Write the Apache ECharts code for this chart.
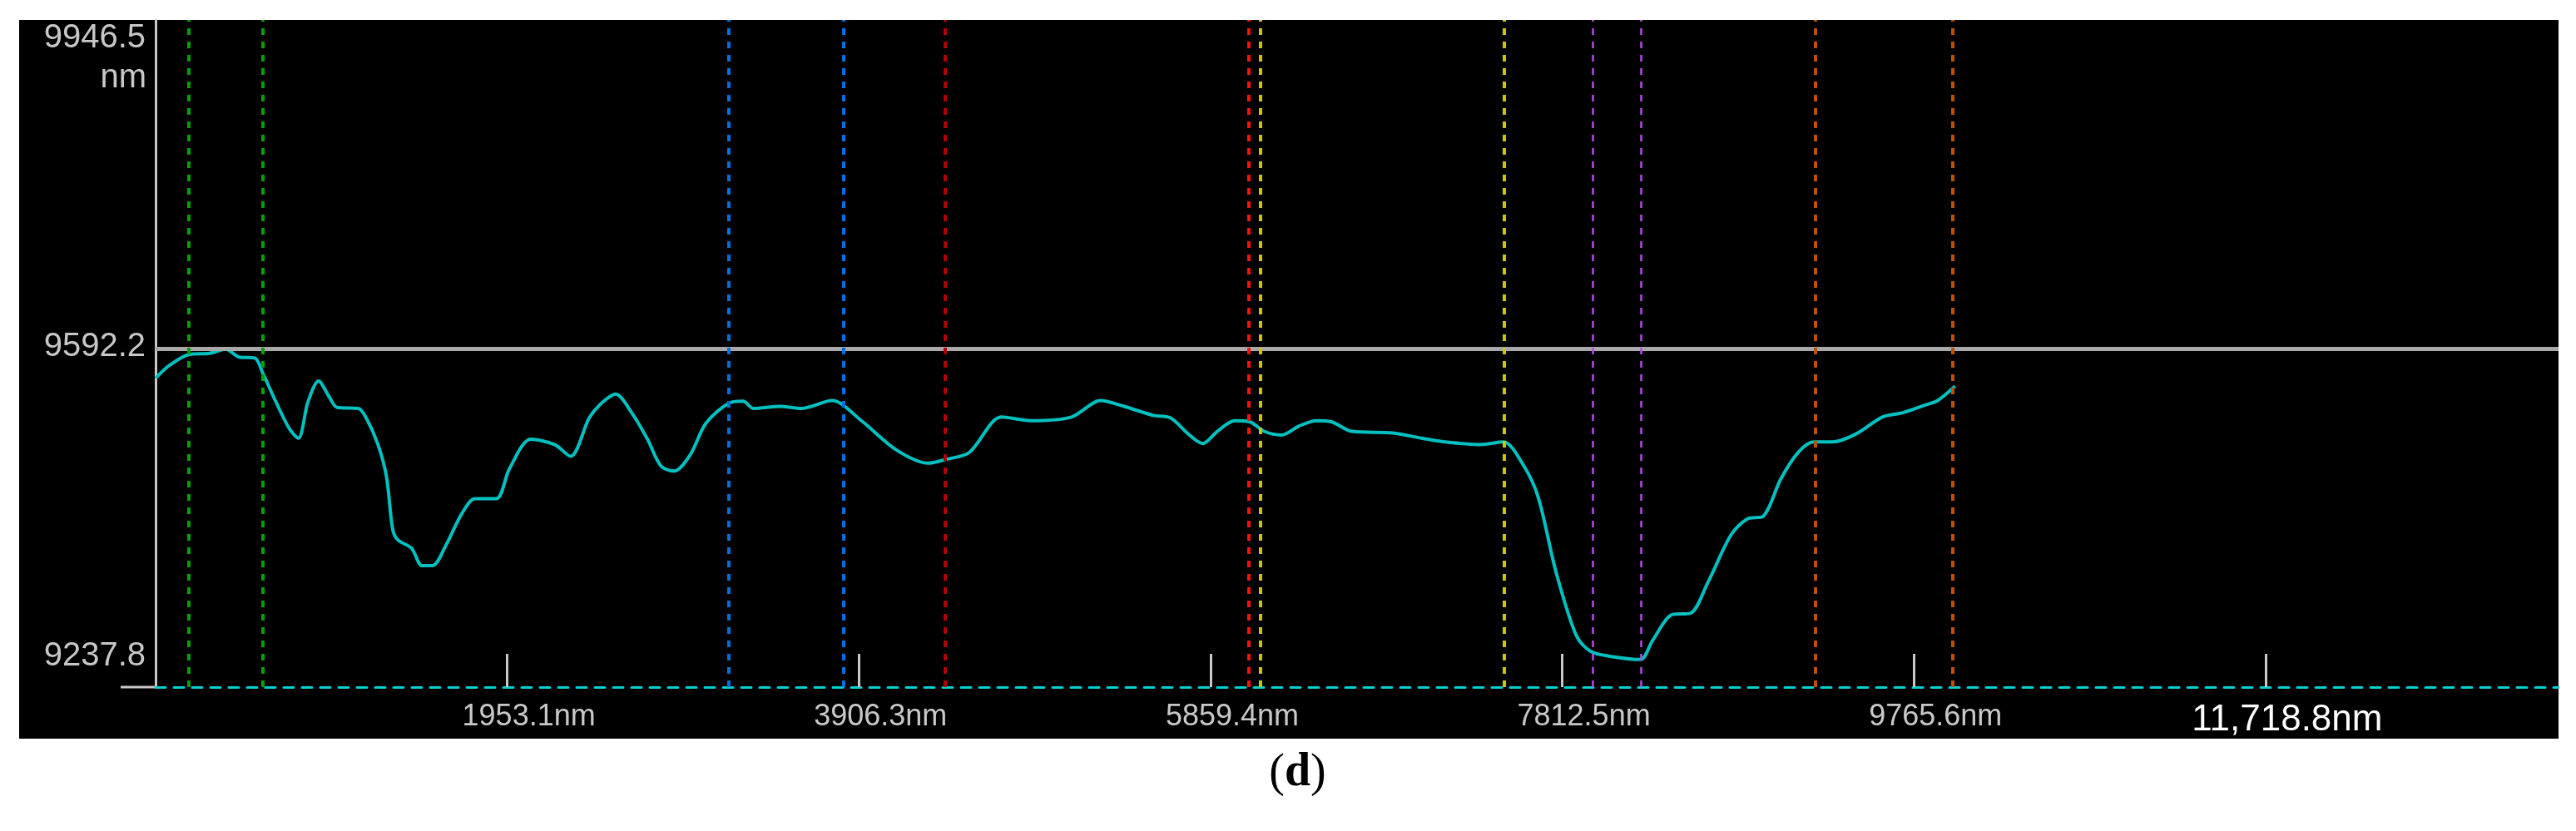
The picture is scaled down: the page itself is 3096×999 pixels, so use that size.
<!DOCTYPE html>
<html>
<head>
<meta charset="utf-8">
<script src="https://cdn.jsdelivr.net/npm/echarts@6/dist/echarts.min.js"></script>
<style>html,body{margin:0;padding:0;background:#fff}#chart{width:3096px;height:999px}</style>
</head>
<body>
<div id="chart"></div>
<script>
// Profil (Abstand in nm, Höhe in nm)
var distNm = [0, 80, 189, 301, 389, 463, 551, 595, 669, 743, 793, 846, 905, 964, 1008, 1126, 1170, 1235, 1282, 1317,
	1347, 1421, 1480, 1538, 1612, 1701, 1774, 1892, 1966, 2084, 2216, 2305, 2408, 2467, 2555, 2644, 2732, 2806, 2880, 2968,
	3056, 3183, 3263, 3321, 3469, 3587, 3758, 3920, 4114, 4292, 4387, 4519, 4698, 4860, 5087, 5249, 5379, 5541, 5638, 5735,
	5816, 5897, 5994, 6076, 6157, 6254, 6351, 6448, 6530, 6643, 6870, 7032, 7162, 7356, 7486, 7599, 7680, 7778, 7891, 7972,
	8102, 8248, 8313, 8426, 8523, 8621, 8750, 8841, 8929, 9026, 9122, 9210, 9316, 9445, 9591, 9704, 9833, 9898, 9994];
var heightNm = [9558.6, 9573.8, 9586.0, 9587.2, 9592.0, 9582.9, 9581.7, 9564.6, 9531.2, 9500.7, 9489.8, 9531.2, 9555.5, 9537.3, 9525.1, 9523.9, 9512.9, 9482.5, 9446.0, 9385.1,
	9372.9, 9363.8, 9343.7, 9343.7, 9366.8, 9403.4, 9420.4, 9420.4, 9455.1, 9488.6, 9482.5, 9469.1, 9512.9, 9528.1, 9540.3, 9519.0, 9488.6, 9458.1, 9452.1, 9470.3,
	9506.8, 9530.0, 9532.4, 9523.9, 9526.3, 9523.9, 9533.0, 9509.9, 9476.4, 9461.2, 9465.4, 9473.4, 9514.1, 9509.9, 9514.1, 9533.0, 9526.3, 9516.0, 9512.9, 9494.7,
	9483.7, 9497.7, 9509.9, 9508.7, 9497.7, 9493.4, 9503.8, 9509.9, 9508.7, 9497.7, 9495.9, 9489.8, 9485.5, 9482.5, 9485.5, 9458.1, 9421.6, 9336.4, 9263.4, 9245.1,
	9239.0, 9236.0, 9257.3, 9287.7, 9288.9, 9324.2, 9379.0, 9397.3, 9400.3, 9442.9, 9473.3, 9485.5, 9485.5, 9494.7, 9514.1, 9519.0, 9528.1, 9533.0, 9549.4];

// Cursor-Linien
var cursorX = [183, 593, 3183, 3820, 4385, 6073, 6137, 7489, 7981, 8250, 9218, 9981];
var cursorColor = ['#00a000', '#00a000', '#0070e0', '#0070e0', '#b00000', '#ff1010', '#c8c800', '#c8c800', '#b050e0', '#b050e0', '#c05000', '#c05000'];

var xTicks = [1953.1, 3906.3, 5859.4, 7812.5, 9765.6, 11718.8];
var xTickLabels = ['1953.1nm', '3906.3nm', '5859.4nm', '7812.5nm', '9765.6nm', '11,718.8nm'];
var yTicks = [9237.8, 9592.2, 9946.5];
var refLevel = 9592.2;

var chart = echarts.init(document.getElementById('chart'));

var marks = cursorX.map(function (x, i) {
	return {xAxis: x, lineStyle: {color: cursorColor[i], type: [8, 8], width: i == 8 || i == 9 ? 2.5 : 4}};
});
marks.unshift({yAxis: refLevel, lineStyle: {color: '#a8a8a8', type: 'solid', width: 5}});

chart.setOption({
	animation: false,
	backgroundColor: '#fff',
	graphic: [
		{type: 'rect', z: -10, shape: {x: 23, y: 24, width: 3052, height: 864}, style: {fill: '#000'}},
		{type: 'line', shape: {x1: 145, y1: 826, x2: 188, y2: 826}, style: {stroke: '#c8c8c8', lineWidth: 3}},
		{type: 'text', x: 176, y: 74, style: {text: 'nm', fill: '#c8c8c8', font: '40px "Liberation Sans"', align: 'right'}},
		{type: 'text', x: 1544, y: 902, style: {text: '(', fill: '#000', font: '56px "Liberation Serif"', align: 'right'}},
		{type: 'text', x: 1544, y: 902, style: {text: 'd', fill: '#000', font: 'bold 56px "Liberation Serif"'}},
		{type: 'text', x: 1575, y: 902, style: {text: ')', fill: '#000', font: '56px "Liberation Serif"'}}
	],
	grid: {left: 187, right: 21, top: 24, bottom: 173},
	xAxis: {
		type: 'value', min: 0, max: 13346,
		splitLine: {show: false},
		axisLine: {lineStyle: {color: '#00d0d0', type: [12, 10], width: 3}},
		axisTick: {customValues: xTicks, inside: true, length: 40, lineStyle: {color: '#c8c8c8', width: 3}},
		axisLabel: {
			customValues: xTicks, margin: 18, color: '#c8c8c8', fontSize: 36, fontFamily: 'Liberation Sans',
			padding: [0, 0, 0, 52],
			formatter: function (v) {
				var i = xTicks.indexOf(v);
				return i == 5 ? '{b|' + xTickLabels[i] + '}' : xTickLabels[i];
			},
			rich: {b: {color: '#fff', fontSize: 44, fontFamily: 'Liberation Sans'}}
		}
	},
	yAxis: {
		type: 'value', min: 9204.4, max: 9969.4,
		splitLine: {show: false},
		axisLine: {show: true, lineStyle: {color: '#c8c8c8', width: 3}},
		axisTick: {show: false},
		axisLabel: {
			customValues: yTicks, margin: 12, color: '#c8c8c8', fontSize: 40, fontFamily: 'Liberation Sans',
			verticalAlign: 'bottom', padding: [0, 0, -18, 0],
			formatter: function (v) { return v.toFixed(1); }
		}
	},
	series: [{
		type: 'line',
		data: distNm.map(function (x, i) { return [x, heightNm[i]]; }),
		showSymbol: false,
		smooth: 0.3,
		lineStyle: {color: '#00c0c0', width: 4},
		markLine: {silent: true, symbol: 'none', label: {show: false}, data: marks}
	}]
});
</script>
</body>
</html>
